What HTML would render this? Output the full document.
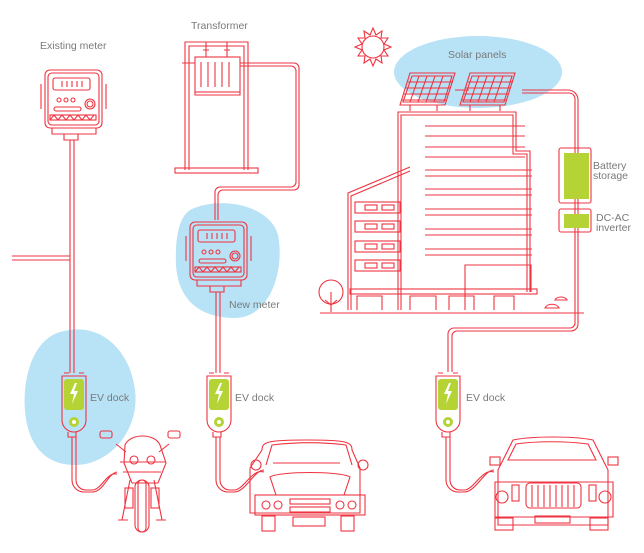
<!DOCTYPE html>
<html><head><style>
body{margin:0;background:#fff;}
svg{display:block;}
text{font-family:"Liberation Sans",sans-serif;fill:#7a7a7a;font-size:10.5px;}
</style></head><body>
<svg width="644" height="553" viewBox="0 0 644 553" xmlns="http://www.w3.org/2000/svg">
<!-- blobs -->
<path d="M190 210 C220 195 270 205 278 235 C285 270 270 318 235 318 C200 318 178 300 176 265 C175 240 178 218 190 210Z" fill="#b8e2f6"/>
<path d="M60 332 C100 320 130 350 135 390 C140 430 110 465 75 465 C35 465 22 430 25 390 C28 360 40 338 60 332Z" fill="#b8e2f6"/>
<ellipse cx="478" cy="72" rx="84" ry="36" fill="#b8e2f6"/>

<g fill="none" stroke="#ef3340" stroke-width="1.1">
<!-- existing meter wires -->
<path d="M70 140 V373 M74 140 V373 M12 256 H70 M12 260 H70"/>
<!-- existing meter -->
<rect x="45" y="70" width="57" height="58" rx="5"/>
<rect x="48" y="73" width="51" height="52" rx="4"/>
<rect x="53" y="78" width="37" height="12" rx="2"/>
<path d="M62 81v6 M67 81v6 M72 81v6 M77 81v6 M82 81v6"/>
<circle cx="59" cy="100" r="2"/><circle cx="66" cy="100" r="2"/><circle cx="73" cy="100" r="2"/>
<circle cx="90" cy="104" r="5"/><circle cx="90" cy="104" r="3"/>
<rect x="54" y="107" width="27" height="4" rx="2"/>
<rect x="50" y="115" width="46" height="5"/>
<path d="M50 120 l4-5 4 5 4-5 4 5 4-5 4 5 4-5 4 5 4-5 4 5 4-5"/>
<path d="M41 84 v25 M106 84 v25 M52 128 v6 h44 v-6 M64 134 v6 h14 v-6"/>
<!-- transformer -->
<path d="M185 170 V42 H248 V170 M189 170 V46 H244 V170"/>
<rect x="175" y="168" width="83" height="5"/>
<rect x="195" y="57" width="45" height="35"/>
<path d="M201 62v25 M208 62v25 M215 62v25 M222 62v25 M229 62v25"/>
<path d="M206 42v15 M227 42v15 M203 50h6 M224 50h6 M195 92v3h45v-3"/>
<path d="M182 63h13 M240 63h54 a5 5 0 0 1 5 5 V185 a5 5 0 0 1 -5 5 H223 a5 5 0 0 0 -5 5 V220"/>
<path d="M240 66h51 a5 5 0 0 1 5 5 V182 a5 5 0 0 1 -5 5 H220 a5 5 0 0 0 -5 5 V220" />
<!-- new meter -->
<rect x="190" y="222" width="57" height="58" rx="5"/>
<rect x="193" y="225" width="51" height="52" rx="4"/>
<rect x="198" y="230" width="37" height="12" rx="2"/>
<path d="M207 233v6 M212 233v6 M217 233v6 M222 233v6 M227 233v6"/>
<circle cx="204" cy="252" r="2"/><circle cx="211" cy="252" r="2"/><circle cx="218" cy="252" r="2"/>
<circle cx="235" cy="256" r="5"/><circle cx="235" cy="256" r="3"/>
<rect x="199" y="259" width="27" height="4" rx="2"/>
<rect x="195" y="267" width="46" height="5"/>
<path d="M195 272 l4-5 4 5 4-5 4 5 4-5 4 5 4-5 4 5 4-5 4 5 4-5"/>
<path d="M186 236v25 M251 236v25 M197 280v6h44v-6 M210 286v6h14v-6"/>
<path d="M216 292V373 M220 292V373"/>
<!-- docks -->
<g id="dock">
<path d="M62 376 h24 v44 a12 12 0 0 1 -12 12 h-0 a12 12 0 0 1 -12 -12z"/>
<path d="M64 373h5 M79 373h5 M68 432 v5 h8 v-5"/>
</g>
<use href="#dock" x="145"/>
<use href="#dock" x="374"/>
<path d="M72 437 V480 a12 12 0 0 0 12 12 h8 c12 0 15-18 25-20 M76 437 V480 a10 10 0 0 0 10 10 h6 c10 0 14-18 25-16"/>
<path d="M216 437 V480 a12 12 0 0 0 12 12 h6 c12 0 20-22 30-22 M220 437 V480 a10 10 0 0 0 10 10 h4 c10 0 18-22 30-18"/>
<path d="M446 437 V480 a12 12 0 0 0 12 12 h6 c12 0 20-22 30-22 M450 437 V480 a10 10 0 0 0 10 10 h4 c10 0 18-22 30-18"/>
<path d="M448 372 V334 a6 6 0 0 1 6-6 H570 a5 5 0 0 0 5-5 V99 a6 6 0 0 0 -6-6 H522 M452 372 V336 a5 5 0 0 1 5-5 H571 a7 7 0 0 0 7-7 V100 a10 10 0 0 0 -10-10 H522"/>
<!-- battery/inverter -->
<rect x="559" y="148" width="32" height="55" rx="2"/>
<rect x="559" y="209" width="32" height="23" rx="2"/>
<!-- motorcycle -->
<path d="M125 445 c5-12 30-12 35 0 l6 18 -8 20 h-26 l-8-20z"/>
<path d="M126 452 l-10-8 M159 452 l10-8"/><rect x="100" y="431" width="12" height="7" rx="2"/><rect x="168" y="431" width="12" height="7" rx="2"/>
<path d="M120 462 h45 M123 472 h38"/>
<circle cx="134" cy="460" r="4"/><circle cx="151" cy="460" r="4"/>
<rect x="138" y="480" width="8" height="52" rx="4"/><rect x="135" y="480" width="14" height="52" rx="7"/>
<path d="M130 480 l-8 40 M154 480 l8 40 M118 520 h10 M156 520h10"/>
<rect x="125" y="488" width="8" height="20"/><rect x="151" y="488" width="8" height="20"/>
<!-- car 1 -->
<path d="M262 450 c0-8 5-10 45-10 c40 0 45 2 45 10 l8 18 v45 h-110 v-45z"/>
<path d="M266 465 l6-20 c25-3 50-3 74 0 l6 20 M273 463 h67"/>
<path d="M270 477 c10-6 70-6 80 0 l-6 18 h-68z"/>
<rect x="255" y="495" width="110" height="20"/>
<circle cx="266" cy="505" r="4"/><circle cx="278" cy="505" r="4"/><circle cx="340" cy="505" r="4"/><circle cx="352" cy="505" r="4"/>
<rect x="290" y="499" width="40" height="5"/><rect x="290" y="507" width="40" height="5"/>
<rect x="293" y="517" width="32" height="9"/>
<rect x="262" y="516" width="13" height="15"/><rect x="341" y="516" width="13" height="15"/>
<circle cx="256" cy="465" r="5"/><circle cx="363" cy="465" r="5"/>
<!-- car 2 -->
<path d="M498 470 l15-30 c20-4 60-4 80 0 l15 30 v55 h-110z"/>
<path d="M508 460 l8-16 c20-3 50-3 72 0 l8 16z"/>
<path d="M495 482 h118 v35 h-118z"/>
<circle cx="502" cy="497" r="6"/><circle cx="605" cy="497" r="6"/>
<rect x="512" y="485" width="7" height="16"/><rect x="589" y="485" width="7" height="16"/>
<rect x="526" y="483" width="55" height="25" rx="4"/>
<path d="M532 485v22 M538 485v22 M544 485v22 M550 485v22 M556 485v22 M562 485v22 M568 485v22 M574 485v22"/>
<rect x="490" y="457" width="10" height="8"/><rect x="608" y="457" width="10" height="8"/>
<rect x="495" y="518" width="18" height="12"/><rect x="590" y="518" width="18" height="12"/>
<rect x="535" y="516" width="35" height="7"/>
<!-- sun -->
<circle cx="373" cy="47" r="11"/>
<path d="M373 28 l3 7 6-4 -1 7 7 0 -4 6 7 3 -7 3 4 6 -7 0 1 7 -6-4 -3 7 -3-7 -6 4 1-7 -7 0 4-6 -7-3 7-3 -4-6 7 0 -1-7 6 4z"/>
<!-- solar panels -->
<path d="M410 73 h45 l-10 32 h-45z"/><path d="M412 76 h40 l-8 26 h-41z"/>
<path d="M470 73 h45 l-10 32 h-45z"/><path d="M472 76 h40 l-8 26 h-41z"/>
<path d="M408 82h45 M406 88h44 M404 94h44 M402 100h44 M419 76l-9 26 M427 76l-9 26 M435 76l-9 26 M443 76l-9 26"/>
<path d="M468 82h45 M466 88h44 M464 94h44 M462 100h44 M479 76l-9 26 M487 76l-9 26 M495 76l-9 26 M503 76l-9 26"/>
<path d="M455 90h14 M410 105v6 M437 105v6 M470 105v6 M500 105v6"/>
<!-- building -->
<path d="M398 310 V112 H516 V151 H530 V292 M401 310 V115 H513 V154 H527 V292"/>
<path d="M348 310 V193 L410 167 M351 310 V196 L410 171"/>
<path d="M425 126h100 M425 136h100 M425 147h100 M425 157h100 M425 170h107 M425 176h107 M425 189h107 M425 195h107 M425 209h107 M425 215h107 M425 229h107 M425 235h107 M425 249h107 M425 255h107"/>
<rect x="355" y="202" width="45" height="11"/><rect x="355" y="221" width="45" height="11"/><rect x="355" y="241" width="45" height="11"/><rect x="355" y="260" width="45" height="11"/>
<rect x="365" y="205" width="12" height="5"/><rect x="382" y="205" width="12" height="5"/>
<rect x="365" y="224" width="12" height="5"/><rect x="382" y="224" width="12" height="5"/>
<rect x="365" y="244" width="12" height="5"/><rect x="382" y="244" width="12" height="5"/>
<rect x="365" y="263" width="12" height="5"/><rect x="382" y="263" width="12" height="5"/>
<path d="M465 310 V265 H531 V292"/>
<rect x="350" y="289" width="187" height="5"/>
<path d="M357 310v-14h25v14 M410 310v-14h26v14 M449 310v-14h25v14 M494 310v-14h20v14"/>
<path d="M320 313 H584"/>
<circle cx="331" cy="292" r="12"/><path d="M331 292 v20 M325 300 l6 5 6-5"/>
<path d="M545 308 c2-5 12-5 14 0z M555 300 c2-4 10-4 12 0z"/>
</g>
<!-- green fills -->
<g fill="#b5d334">
<rect x="564" y="153" width="25" height="46"/>
<rect x="564" y="214" width="25" height="14"/>
<rect x="64" y="379" width="20" height="31" rx="3"/>
<rect x="209" y="379" width="20" height="31" rx="3"/>
<rect x="438" y="379" width="20" height="31" rx="3"/>
<circle cx="74" cy="422" r="5"/><circle cx="219" cy="422" r="5"/><circle cx="448" cy="422" r="5"/>
</g>
<g fill="#fff">
<path d="M75 383 l-5 11 h4 l-2 10 6-13 h-4 l3-8z"/>
<path d="M220 383 l-5 11 h4 l-2 10 6-13 h-4 l3-8z"/>
<path d="M449 383 l-5 11 h4 l-2 10 6-13 h-4 l3-8z"/>
<circle cx="74" cy="422" r="2"/><circle cx="219" cy="422" r="2"/><circle cx="448" cy="422" r="2"/>
</g>
<text x="40" y="49">Existing meter</text>
<text x="191" y="29">Transformer</text>
<text x="229" y="308">New meter</text>
<text x="448" y="58">Solar panels</text>
<text x="593" y="169">Battery</text>
<text x="593" y="179">storage</text>
<text x="596" y="221">DC-AC</text>
<text x="596" y="231">inverter</text>
<text x="90" y="401">EV dock</text>
<text x="235" y="401">EV dock</text>
<text x="466" y="401">EV dock</text>
</svg>
</body></html>
